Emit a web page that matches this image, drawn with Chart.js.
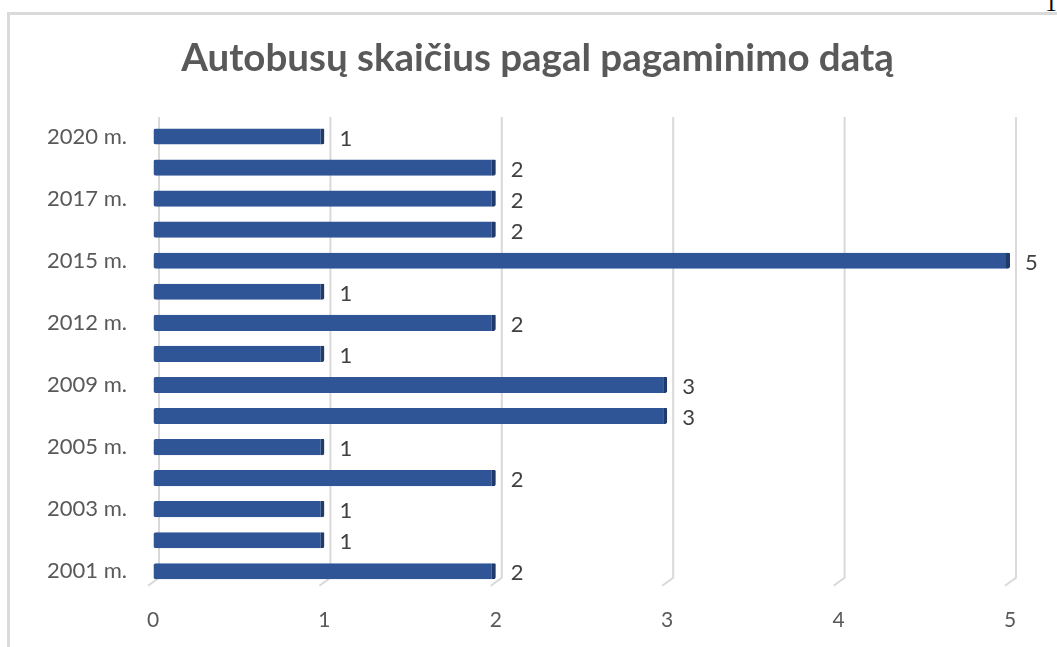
<!DOCTYPE html>
<html>
<head>
<meta charset="utf-8">
<script src="https://cdn.jsdelivr.net/npm/chart.js@4/dist/chart.umd.min.js"></script>
<style>
  html, body { margin: 0; padding: 0; background: #fff; overflow: hidden; }
  #wrap { position: relative; width: 1057px; height: 647px; }
  #frame { position: absolute; left: 7px; top: 12px; width: 1100px; height: 700px;
           border-left: 3px solid #dadada; border-top: 3px solid #dadada; box-sizing: border-box; }
  #pg { position: absolute; right: 0px; top: -10px; font-family: "Liberation Serif", serif; font-size: 24px; color: #000; }
  canvas { position: absolute; left: 0; top: 0; }
</style>
</head>
<body>
<div id="wrap">
  <div id="frame"></div>
  <div id="pg">1</div>
  <canvas id="c" width="1057" height="647"></canvas>
</div>
<script>
// Data (bottom to top)
const titleText = "Autobusų skaičius pagal pagaminimo datą";
const categories = ["2001 m.", "2002 m.", "2003 m.", "2004 m.", "2005 m.", "2008 m.", "2009 m.", "2011 m.", "2012 m.", "2014 m.", "2015 m.", "2016 m.", "2017 m.", "2019 m.", "2020 m."];
const counts = [2, 1, 1, 2, 1, 3, 3, 1, 2, 1, 5, 2, 2, 2, 1];
const xTicks = [0, 1, 2, 3, 4, 5];

const FONT = "Lato, 'Open Sans', sans-serif";

const chartTitle = {
  id: 'chartTitle',
  afterDraw(chart) {
    const ctx = chart.ctx;
    ctx.save();
    ctx.font = "bold 38.5px " + FONT;
    ctx.fillStyle = "#595959";
    ctx.textAlign = "center";
    ctx.textBaseline = "middle";
    ctx.fillText(titleText, 537.5, 59);
    ctx.restore();
  }
};

const valueLabels = {
  id: 'valueLabels',
  afterDatasetsDraw(chart) {
    const ctx = chart.ctx;
    const meta = chart.getDatasetMeta(0);
    ctx.save();
    ctx.font = "22px " + FONT;
    ctx.fillStyle = "#404040";
    ctx.textBaseline = "middle";
    ctx.textAlign = "left";
    meta.data.forEach((bar, i) => {
      ctx.fillText(String(counts[i]), bar.x + 15, bar.y + 2);
    });
    ctx.restore();
  }
};

// 3D-style back-wall gridlines with a small diagonal foot, placed from the x scale
const wallGrid = {
  id: 'wallGrid',
  beforeDatasetsDraw(chart) {
    const ctx = chart.ctx;
    const xs = chart.scales.x;
    const { top, bottom } = chart.chartArea;
    ctx.save();
    ctx.strokeStyle = "#d9d9d9";
    ctx.lineWidth = 2;
    xTicks.forEach(v => {
      const px = xs.getPixelForValue(v);
      ctx.beginPath();
      ctx.moveTo(px + 6, top - 4);
      ctx.lineTo(px + 6, bottom - 9);
      ctx.lineTo(px - 5, bottom - 1);
      ctx.stroke();
    });
    ctx.restore();
  }
};

new Chart(document.getElementById('c'), {
  type: 'bar',
  data: {
    labels: categories,
    datasets: [{
      data: counts,
      backgroundColor: '#2F5597',
      borderColor: '#1F3A6B',
      borderWidth: { top: 0, right: 4, bottom: 0, left: 0 },
      borderSkipped: false,
      borderRadius: { topLeft: 2, bottomLeft: 2, topRight: 1, bottomRight: 2 },
      barPercentage: 0.52,
      categoryPercentage: 1.0
    }]
  },
  options: {
    indexAxis: 'y',
    responsive: false,
    animation: false,
    devicePixelRatio: 1,
    layout: { padding: { left: 0, right: 47, top: 121, bottom: 14 } },
    plugins: {
      legend: { display: false },
      tooltip: { enabled: false },
      title: { display: false }
    },
    scales: {
      x: {
        min: 0, max: 5,
        afterBuildTicks(scale) { scale.ticks = xTicks.map(v => ({ value: v })); },
        grid: { display: true, drawOnChartArea: false, drawTicks: true, tickLength: 21, tickColor: 'rgba(0,0,0,0)' },
        border: { display: false },
        ticks: { color: '#595959', font: { family: FONT, size: 21 }, padding: 0 }
      },
      y: {
        reverse: true,
        grid: { display: true, drawOnChartArea: false, drawTicks: true, tickLength: 26, tickColor: 'rgba(0,0,0,0)' },
        border: { display: false },
        afterFit(scale) { scale.width = 153; },
        ticks: {
          autoSkip: false,
          color: '#595959',
          font: { family: FONT, size: 22 },
          padding: 0,
          callback(val, idx) { return idx % 2 === 0 ? categories[idx] : ''; }
        }
      }
    }
  },
  plugins: [valueLabels, wallGrid, chartTitle]
});
</script>
</body>
</html>
